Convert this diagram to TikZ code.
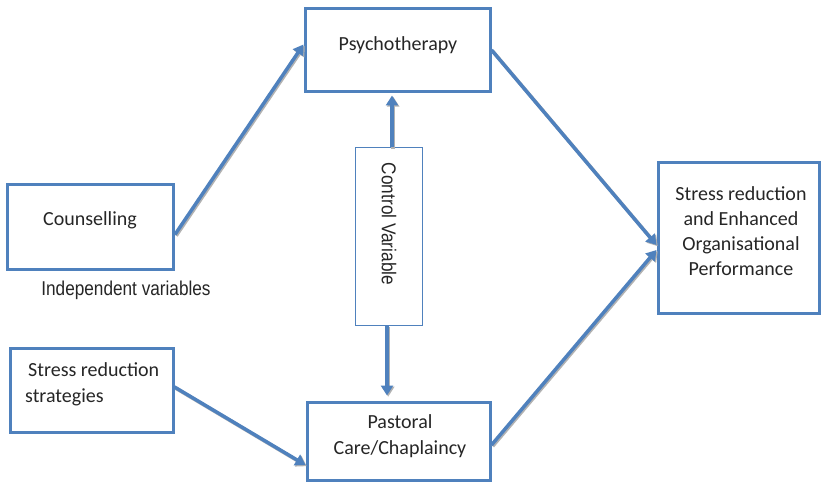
\documentclass[tikz,border=0pt]{standalone}
\usepackage{fontspec}
\setmainfont{Carlito}
\newfontfamily\arialn[FakeStretch=0.86]{Liberation Sans}
\usetikzlibrary{arrows.meta,calc}
\definecolor{boxblue}{HTML}{4F81BD}
\tikzset{
  x=1pt,y=-1pt,
  boxnode/.style={draw=boxblue, line width=3pt, rectangle, inner sep=0pt, fill=white},
  thinbox/.style={draw=boxblue, line width=1pt, rectangle, inner sep=0pt, fill=white},
  boxtext/.style={font=\fontsize{20}{26}\selectfont, inner sep=0pt, text=black!85},
  sidetext/.style={font=\arialn\fontsize{20}{24}\selectfont, inner sep=0pt, text=black!85},
  flow/.style={draw=boxblue, line width=3.5pt,
    -{Triangle[width=12pt,length=10pt]},
    preaction={draw=black!30, line width=3.5pt, -{Triangle[width=12pt,length=10pt]},
      transform canvas={shift={(1.2pt,-1.2pt)}}}},
}
\begin{document}
\begin{tikzpicture}
\useasboundingbox[fill=white] (0,0) rectangle (823,484);
% boxes
\node[boxnode, minimum width=185pt, minimum height=83pt] (psy) at (397.5,50.5) {};
\node[boxnode, minimum width=166pt, minimum height=85pt] (coun) at (90.5,227.5) {};
\node[boxnode, minimum width=163pt, minimum height=84pt] (srs) at (91.5,390) {};
\node[boxnode, minimum width=183pt, minimum height=78pt] (pas) at (398.5,441) {};
\node[boxnode, minimum width=161pt, minimum height=150pt] (out) at (738.5,238) {};
\node[thinbox, minimum width=67pt, minimum height=177pt] (cv) at (388.5,236.5) {};
% texts
\node[boxtext] (psyT) at (398,45) {Psychotherapy};
\node[boxtext] (counT) at (90,220) {Counselling};
\node[boxtext, anchor=west, align=left] (srsT) at (25,384) {\hspace{3pt}Stress reduction\\strategies};
\node[boxtext, align=center] (pasT) at (400,436) {Pastoral\\Care/Chaplaincy};
\node[boxtext, align=center, font=\fontsize{20}{25}\selectfont] (outT) at (741,231) {Stress reduction\\and Enhanced\\Organisational\\Performance};
\node[sidetext] (indT) at (126,290) {Independent variables};
\node[sidetext, rotate=-90] (cvT) at (389,224) {Control Variable};
% connectors
\draw[flow] ($(coun.east)+(0,7)$) -- ($(psy.west)+(0,-6)$);
\draw[flow] ($(srs.east)+(0,-3)$) -- ($(pas.west)+(0,24)$);
\draw[flow] ($(psy.east)+(0,-0.5)$) -- ($(out.west)+(0,7)$);
\draw[flow] ($(pas.east)+(0,4)$) -- ($(out.west)+(0,12)$);
\draw[flow] ($(cv.north)+(3.5,0)$) -- ($(psy.south)+(-5.5,2)$);
\draw[flow] ($(cv.south)+(-1.5,0)$) -- ($(pas.north)+(-11.5,-5)$);
\end{tikzpicture}
\end{document}
